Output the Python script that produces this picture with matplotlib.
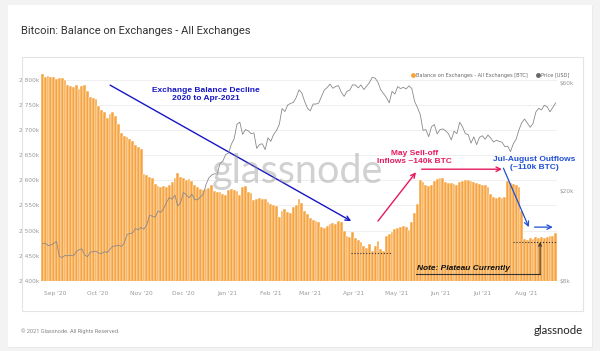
import matplotlib
matplotlib.use("Agg")
import matplotlib.pyplot as plt
import pandas as pd
from matplotlib.lines import Line2D
from matplotlib.patches import Rectangle
from matplotlib.ticker import FixedLocator, FuncFormatter, NullLocator
import matplotlib.dates as mdates

# data, one value every 2 days starting 2020-08-22 (balance in k BTC, price in USD)
START = "2020-08-22"
balance_k = [
    2812, 2806, 2808, 2805, 2806,  # Aug
    2802, 2804, 2803, 2800, 2790, 2787, 2786, 2789, 2782, 2788, 2790, 2778, 2766, 2763, 2761,  # Sep
    2748, 2740, 2736, 2724, 2731, 2735, 2727, 2712, 2694, 2688, 2686, 2682, 2678, 2670, 2667, 2662,  # Oct
    2612, 2610, 2607, 2604, 2592, 2588, 2587, 2588, 2586, 2590, 2596, 2604, 2614, 2606, 2604,  # Nov
    2600, 2602, 2598, 2590, 2586, 2583, 2580, 2582, 2585, 2590, 2578, 2576, 2577, 2572, 2570,  # Dec
    2580, 2583, 2580, 2578, 2571, 2586, 2588, 2576, 2574, 2560, 2562, 2564, 2563, 2562, 2557, 2552,  # Jan
    2550, 2548, 2528, 2540, 2542, 2537, 2536, 2546, 2550, 2563, 2555, 2540, 2534, 2526,  # Feb
    2522, 2520, 2518, 2508, 2505, 2510, 2514, 2516, 2514, 2520, 2518, 2500, 2490, 2488, 2497,  # Mar
    2485, 2482, 2478, 2470, 2466, 2474, 2460, 2470, 2480, 2464, 2460, 2490, 2494, 2497, 2503,  # Apr
    2506, 2507, 2509, 2508, 2502, 2518, 2535, 2552, 2600, 2596, 2590, 2588, 2590, 2598, 2603, 2605,  # May
    2604, 2596, 2594, 2595, 2592, 2590, 2597, 2598, 2600, 2601, 2598, 2596, 2595, 2592, 2590,  # Jun
    2590, 2586, 2572, 2566, 2565, 2566, 2564, 2566, 2598, 2594, 2592, 2590, 2586, 2540, 2484,  # Jul
    2482, 2486, 2484, 2488, 2485, 2487, 2486, 2488, 2489, 2490, 2495,  # Aug
]
price_usd = [
    11680, 11760, 11470, 11540, 11710,
    11970, 10250, 10170, 10370, 10340, 10390, 10330, 10780, 11000, 11090, 10420, 10240, 10740, 10780, 10840,
    10620, 10570, 10790, 10670, 11060, 11380, 11430, 11500, 11360, 11760, 12820, 12960, 13030, 13650, 13460, 13800,
    13550, 14150, 15590, 15480, 15300, 16300, 16070, 16720, 17800, 18680, 18420, 19150, 17150, 17730, 19700,
    19220, 18650, 19350, 18320, 18250, 18800, 19270, 21300, 22800, 23480, 23820, 23730, 26500, 27080, 28950,
    29370, 32130, 33990, 39370, 40250, 35570, 37320, 36830, 35790, 36070, 30830, 32070, 32290, 30430, 34320, 33110,
    35510, 36930, 39270, 46200, 44840, 47910, 48720, 49170, 51680, 55900, 54090, 49700, 46340, 45140,
    48380, 48370, 48900, 52350, 55880, 57230, 59300, 56800, 57860, 58350, 54500, 52300, 55030, 55780, 58800,
    58740, 57060, 58730, 56050, 58130, 60200, 63500, 62980, 60370, 55900, 53800, 51700, 49000, 55030, 53560,
    57800, 56610, 57350, 56400, 58200, 56700, 49700, 46700, 43500, 37000, 37300, 34700, 38400, 39300, 35700, 37300,
    37570, 36850, 35800, 33580, 36700, 35800, 40200, 38350, 35800, 35480, 32500, 34660, 32000, 34460, 35040,
    33800, 35300, 34230, 32870, 33500, 33080, 32820, 31380, 31530, 29800, 32300, 33800, 37200, 40000, 41550,
    39800, 38200, 39700, 44600, 46300, 45600, 47800, 47100, 44700, 46700, 48900,
]
left_ticks = [2400, 2450, 2500, 2550, 2600, 2650, 2700, 2750, 2800]
right_ticks = [8000, 20000, 60000]

dates = pd.date_range(START, periods=len(balance_k), freq="2D")
step = pd.Timedelta(days=2)

ORANGE = "#f7a33f"
BLUE1 = "#1616c4"
BLUE2 = "#1f4fd6"
PINK = "#e6195f"
TXT = "#9a9a9a"

fig = plt.figure(figsize=(6, 3.51), dpi=100)
fig.patch.set_facecolor("#f3f3f3")

# card + inner panel (negative zorder so the axes draw on top)
fig.patches.append(Rectangle((9 / 600, 3 / 351), 584 / 600, 342 / 351, transform=fig.transFigure,
                             facecolor="#e9e9e9", edgecolor="none", zorder=-3))
fig.patches.append(Rectangle((8 / 600, 4 / 351), 584 / 600, 342 / 351, transform=fig.transFigure,
                             facecolor="white", edgecolor="none", zorder=-2))
fig.patches.append(Rectangle((22 / 600, 40 / 351), 561 / 600, 254 / 351, transform=fig.transFigure,
                             facecolor="white", edgecolor="#e4e4e4", lw=0.8, zorder=-1))

fig.text(21 / 600, 1 - 31 / 351, "Bitcoin: Balance on Exchanges - All Exchanges",
         fontsize=8, color="#333333", va="center", family="Roboto")
fig.text(21 / 600, 1 - 331 / 351, "© 2021 Glassnode. All Rights Reserved.",
         fontsize=4.1, color="#888888", va="center", family="Roboto")
fig.text(583 / 600, 1 - 330 / 351, "glassnode", fontsize=8.2, color="#222222",
         ha="right", va="center", family="Lato")

ax = fig.add_axes([41 / 600, 70 / 351, 516 / 600, 213 / 351])
ax.set_facecolor("none")
ax.bar(dates, balance_k, width=2, align="edge", color=ORANGE, edgecolor="white", linewidth=0.35, zorder=2)
ax.set_ylim(2400, 2823)
ax.set_xlim(dates[0], dates[-1] + step)
ax.yaxis.set_major_locator(FixedLocator(left_ticks))
ax.yaxis.set_major_formatter(FuncFormatter(lambda v, p: f"{int(v) // 1000} {int(v) % 1000:03d}k"))
ax.yaxis.grid(True, color="#ececec", lw=0.6)
ax.set_axisbelow(True)
ax.xaxis.set_major_locator(mdates.MonthLocator())
ax.xaxis.set_major_formatter(mdates.DateFormatter("%b '%y"))
ax.tick_params(axis="y", length=0, pad=1, labelsize=4.2, labelcolor=TXT)
ax.tick_params(axis="x", length=0, pad=7, labelsize=4.2, labelcolor=TXT)
for s in ax.spines.values():
    s.set_visible(False)

ax2 = ax.twinx()
ax2.plot(dates + step / 2, price_usd, color="#8a8a8a", lw=0.6, zorder=3)
ax2.set_yscale("log")
ax2.set_ylim(8000, 69800)
ax2.yaxis.set_major_locator(FixedLocator(right_ticks))
ax2.yaxis.set_minor_locator(NullLocator())
ax2.yaxis.set_major_formatter(FuncFormatter(lambda v, p: f"${int(v / 1000)}k"))
ax2.tick_params(axis="y", length=0, pad=2, labelsize=4.2, labelcolor=TXT)
for s in ax2.spines.values():
    s.set_visible(False)

# watermark
fig.text(297 / 600, 1 - 171 / 351, "glassnode", fontsize=28.5, color="#9a9a9a", alpha=0.45,
         ha="center", va="center", family="Lato", zorder=10)

# legend
handles = [Line2D([], [], ls="none", marker="o", markersize=2.5, color=ORANGE),
           Line2D([], [], ls="none", marker="o", markersize=2.5, color="#666666")]
leg = fig.legend(handles, ["Balance on Exchanges - All Exchanges [BTC]", "Price [USD]"],
                 loc="center right", bbox_to_anchor=(574 / 600, 1 - 75 / 351), ncol=2, frameon=False,
                 fontsize=3.6, handletextpad=0.2, columnspacing=1.6, handlelength=0.8)
for t in leg.get_texts():
    t.set_color("#666666")

# annotations
T = pd.Timestamp
bold = dict(fontsize=6, fontweight="bold", family="Liberation Sans", ha="center", va="center")

ax.annotate("", xy=(T("2021-03-30"), 2519), xytext=(T("2020-10-10"), 2789),
            arrowprops=dict(arrowstyle="->", color=BLUE1, lw=1.0, mutation_scale=8, shrinkA=0, shrinkB=0))
ax.text(T("2020-12-17"), 2771, "Exchange Balance Decline\n2020 to Apr-2021", color=BLUE1, **bold)

ax.annotate("", xy=(T("2021-05-15"), 2616), xytext=(T("2021-04-18"), 2519),
            arrowprops=dict(arrowstyle="->", color=PINK, lw=1.0, mutation_scale=8, shrinkA=0, shrinkB=0))
ax.annotate("", xy=(T("2021-07-15"), 2622), xytext=(T("2021-05-19"), 2622),
            arrowprops=dict(arrowstyle="->", color=PINK, lw=1.0, mutation_scale=8, shrinkA=0, shrinkB=0))
ax.text(T("2021-05-14"), 2646, "May Sell-off\nInflows ~140k BTC", color=PINK, **bold)

ax.annotate("", xy=(T("2021-08-03"), 2507), xytext=(T("2021-07-16"), 2624),
            arrowprops=dict(arrowstyle="->", color=BLUE2, lw=0.9, mutation_scale=8, shrinkA=0, shrinkB=0))
ax.annotate("", xy=(T("2021-08-20"), 2507), xytext=(T("2021-08-07"), 2507),
            arrowprops=dict(arrowstyle="->", color=BLUE2, lw=0.9, mutation_scale=8, shrinkA=0, shrinkB=0))
ax.text(T("2021-08-07"), 2634, "Jul-August Outflows\n(~110k BTC)", color=BLUE2, **bold)

ax.plot([T("2021-03-30"), T("2021-04-27")], [2456, 2456], ls=":", color="#333333", lw=0.8, zorder=4)
ax.plot([T("2021-07-23"), T("2021-08-22")], [2478, 2478], ls=":", color="#333333", lw=0.8, zorder=4)
ax.plot([T("2021-05-15"), T("2021-08-11")], [2414, 2414], color="#333333", lw=0.8, zorder=4)
ax.annotate("", xy=(T("2021-08-11"), 2477), xytext=(T("2021-08-11"), 2414),
            arrowprops=dict(arrowstyle="->", color="#333333", lw=0.8, mutation_scale=5, shrinkA=0, shrinkB=0))
ax.text(T("2021-05-16"), 2417, "Note: Plateau Currently", fontsize=6, fontweight="bold", fontstyle="italic",
        family="Liberation Sans", color="#111111", ha="left", va="bottom", zorder=5)

fig.savefig("out.png", dpi=100, facecolor=fig.get_facecolor())
